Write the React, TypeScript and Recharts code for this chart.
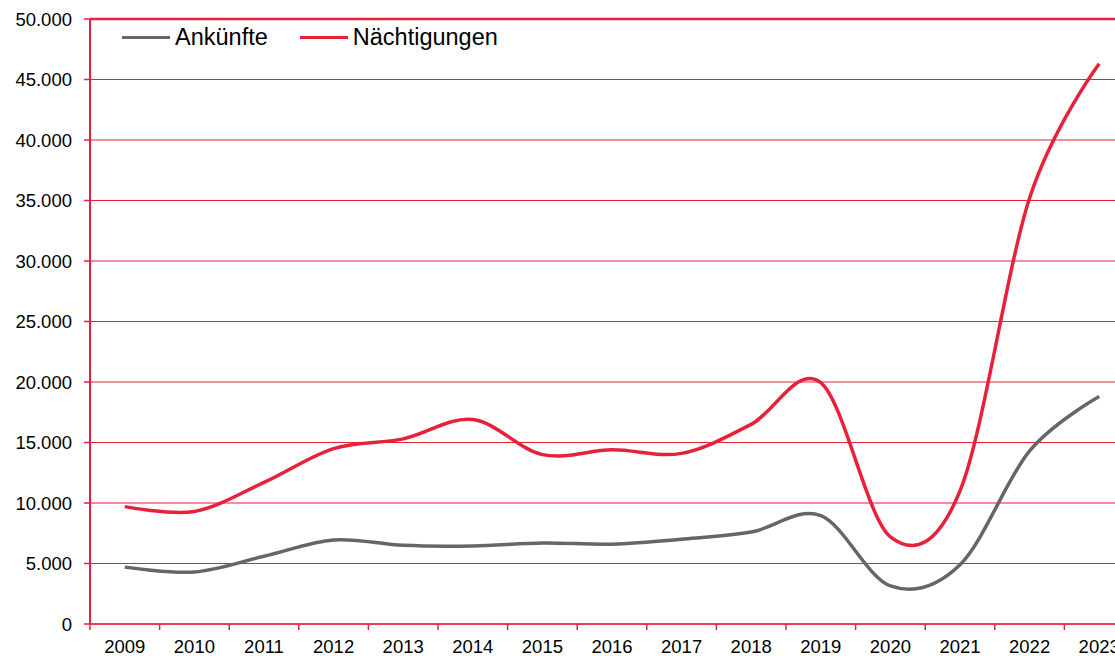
import React from "react";
import {
  LineChart,
  Line,
  XAxis,
  YAxis,
  CartesianGrid,
  Legend,
  ReferenceLine,
} from "recharts";

const years = ["2009", "2010", "2011", "2012", "2013", "2014", "2015", "2016", "2017", "2018", "2019", "2020", "2021", "2022", "2023"];
const arrivals = [4700, 4300, 5600, 6950, 6500, 6450, 6700, 6600, 7000, 7600, 8950, 3150, 4900, 14300, 18800];
const overnights = [9700, 9300, 11700, 14500, 15300, 16900, 14000, 14400, 14100, 16500, 19950, 7200, 11000, 35200, 46300];
const yTicks = [0, 5000, 10000, 15000, 20000, 25000, 30000, 35000, 40000, 45000, 50000];

const seriesNames = { arrivals: "Ankünfte", overnights: "Nächtigungen" };

const RED = "#e8213a";
const GREY = "#666666";
const FONT = '"Liberation Sans", Arial, sans-serif';

const data = years.map((year, i) => ({
  year,
  arrivals: arrivals[i],
  overnights: overnights[i],
}));

// German thousands separator: 50000 -> "50.000"
const fmt = (v: number) => String(v).replace(/\B(?=(\d{3})+(?!\d))/g, ".");

// Excel-like smoothing (cardinal / Catmull-Rom, tension 0)
const excelCurve = (context: any) => {
  const k = 1 / 6;
  let x0 = NaN, y0 = NaN, x1 = NaN, y1 = NaN, x2 = NaN, y2 = NaN;
  let pt = 0;
  let line = NaN;
  const seg = (x: number, y: number) => {
    context.bezierCurveTo(
      x1 + k * (x2 - x0),
      y1 + k * (y2 - y0),
      x2 + k * (x1 - x),
      y2 + k * (y1 - y),
      x2,
      y2
    );
  };
  return {
    areaStart() { line = 0; },
    areaEnd() { line = NaN; },
    lineStart() { x0 = x1 = x2 = y0 = y1 = y2 = NaN; pt = 0; },
    lineEnd() {
      if (pt === 2) context.lineTo(x2, y2);
      else if (pt === 3) seg(x1, y1);
      if (line || (line !== 0 && pt === 1)) context.closePath();
      line = 1 - line;
    },
    point(x: number, y: number) {
      switch (pt) {
        case 0:
          pt = 1;
          if (line) context.lineTo(x, y); else context.moveTo(x, y);
          break;
        case 1:
          pt = 2;
          x1 = x; y1 = y;
          break;
        case 2:
          pt = 3;
          seg(x, y);
          break;
        default:
          seg(x, y);
          break;
      }
      x0 = x1; x1 = x2; x2 = x;
      y0 = y1; y1 = y2; y2 = y;
    },
  };
};

const XTick = (props: any) => {
  const { x, y, payload } = props;
  const half = payload && payload.offset ? payload.offset : 34.8;
  return (
    <g>
      <line x1={x - half} x2={x - half} y1={y - 16} y2={y - 10} stroke={RED} strokeWidth={1.5} />
      <text x={x} y={y} dy="0.71em" textAnchor="middle" fill="#000" fontSize={18.5} fontFamily={FONT}>
        {payload.value}
      </text>
    </g>
  );
};

const renderLegend = (props: any) => {
  const { payload } = props;
  return (
    <div style={{ display: "flex", alignItems: "center", fontFamily: FONT, fontSize: 23.5, color: "#000" }}>
      {(payload || []).map((entry: any, i: number) => (
        <div key={i} style={{ display: "flex", alignItems: "center", marginRight: 32 }}>
          <span style={{ display: "inline-block", width: 48, height: 3, background: entry.color, marginRight: 5 }} />
          <span>{entry.value}</span>
        </div>
      ))}
    </div>
  );
};

export default function App() {
  return (
    <div
      style={{
        position: "absolute",
        left: 0,
        top: 0,
        width: 1115,
        height: 656,
        overflow: "hidden",
        background: "#fff",
      }}
    >
      <LineChart
        width={1160}
        height={656}
        data={data}
        margin={{ top: 19, right: 26, left: 0, bottom: 0 }}
      >
        <CartesianGrid vertical={false} stroke={RED} strokeWidth={1} />
        <XAxis
          dataKey="year"
          scale="band"
          axisLine={{ stroke: RED, strokeWidth: 1.5 }}
          tickLine={false}
          tickSize={6}
          tickMargin={10}
          height={32}
          interval={0}
          tick={<XTick />}
        />
        <YAxis
          width={90}
          domain={[0, 50000]}
          ticks={yTicks}
          interval={0}
          tickFormatter={fmt}
          axisLine={{ stroke: RED, strokeWidth: 2 }}
          tickLine={{ stroke: RED, strokeWidth: 1.5 }}
          tickSize={6}
          tickMargin={12}
          tick={{ fill: "#000", fontSize: 18.5, fontFamily: FONT }}
        />
        <ReferenceLine y={50000} stroke={RED} strokeWidth={2.5} />
        <Legend
          layout="horizontal"
          verticalAlign="middle"
          align="center"
          wrapperStyle={{ top: 24, left: 122, width: "auto", height: 32 }}
          content={renderLegend}
        />
        <Line
          name={seriesNames.arrivals}
          dataKey="arrivals"
          type={excelCurve as any}
          stroke={GREY}
          strokeWidth={3.5}
          dot={false}
          activeDot={false}
          isAnimationActive={false}
        />
        <Line
          name={seriesNames.overnights}
          dataKey="overnights"
          type={excelCurve as any}
          stroke={RED}
          strokeWidth={3.5}
          dot={false}
          activeDot={false}
          isAnimationActive={false}
        />
      </LineChart>
    </div>
  );
}
